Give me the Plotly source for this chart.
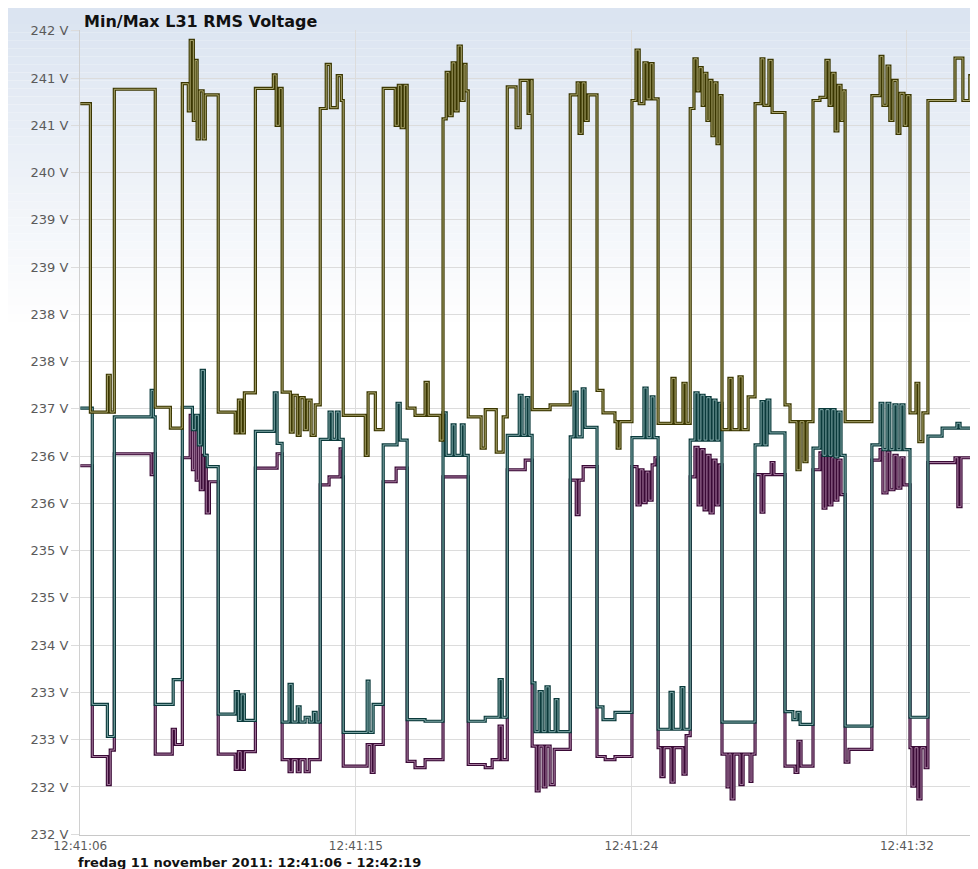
import plotly.graph_objects as go
import pandas as pd

# ---------------- data (seconds after 12:41:06.5, volts) ----------------
start = pd.Timestamp("2011-11-11 12:41:06.5")

olive_t = [0.00, 0.32, 0.86, 0.95, 1.08, 2.38, 2.86,
           3.24, 3.43, 3.49, 3.59, 3.65, 3.71, 3.78, 3.90, 3.97,
           4.38, 4.92, 5.02, 5.11, 5.21,
           5.56, 6.13, 6.22, 6.32,
           6.41, 6.67, 6.76, 6.89, 6.98, 7.11, 7.21, 7.33, 7.46,
           7.62, 7.81, 7.94, 8.16, 8.29,
           8.35, 9.05, 9.14, 9.37,
           9.62, 10.00, 10.10, 10.19, 10.29,
           10.38, 10.63, 10.95, 11.05, 11.43,
           11.52, 11.62, 11.71, 11.81, 11.90, 12.00, 12.10, 12.19, 12.25,
           12.32, 12.73, 12.86, 13.21, 13.43,
           13.56, 13.84, 13.97, 14.22, 14.32,
           14.35, 14.92,
           15.56, 15.78, 15.84, 15.94, 16.03, 16.13,
           16.41, 16.60, 16.98, 17.05, 17.14,
           17.52, 17.65, 17.75, 17.90, 18.00, 18.10, 18.19,
           18.35, 18.79, 18.89, 19.14, 19.24,
           19.37, 19.49, 19.59, 19.65, 19.75, 19.81, 19.90, 19.97, 20.06, 20.13, 20.22, 20.29,
           20.38, 20.60, 20.70, 20.92, 21.02, 21.21,
           21.43, 21.62, 21.71, 21.87, 21.97,
           22.38, 22.54, 22.76, 22.86, 22.98, 23.08,
           23.27, 23.49, 23.68, 23.78, 23.87, 23.97, 24.06, 24.16, 24.22,
           24.29,
           25.14, 25.40, 25.49, 25.62, 25.71, 25.81, 25.94, 26.03, 26.16, 26.25,
           26.35, 26.54, 26.63, 26.76,
           26.92, 27.78, 28.03, 28.25,
           28.35, 28.51]
olive_v = [240.82, 236.97, 237.43, 236.97, 241.00, 237.03, 236.77,
           241.07, 240.73, 241.61, 240.61, 241.36, 240.38, 240.98, 240.38, 240.93,
           236.97, 236.71, 237.12, 236.71, 237.21,
           241.01, 241.18, 240.55, 241.01,
           237.22, 236.72, 237.18, 236.68, 237.15, 236.75, 237.12, 236.68, 237.06,
           240.76, 241.31, 240.77, 241.17, 240.86,
           236.93, 236.43, 237.21, 236.75,
           241.01, 240.55, 241.05, 240.52, 241.05,
           237.02, 236.93, 237.34, 236.93, 236.62,
           240.63, 241.21, 240.67, 241.33, 240.73, 241.54, 240.86, 241.31, 240.98,
           236.91, 236.52, 237.00, 236.47, 236.91,
           241.03, 240.52, 241.11, 240.70, 241.11,
           237.00, 237.06,
           240.93, 241.08, 240.45, 241.08, 240.61, 240.93,
           237.24, 236.96, 236.85, 236.52, 236.85,
           240.86, 241.49, 240.82, 241.33, 240.88, 241.32, 240.88,
           236.83, 237.39, 236.83, 237.33, 236.83,
           240.76, 241.38, 240.98, 241.27, 240.80, 241.20, 240.61, 241.11, 240.42, 241.08, 240.32, 240.92,
           236.75, 237.39, 236.75, 237.41, 236.75, 237.16,
           240.82, 241.38, 240.80, 241.36, 240.71,
           237.06, 236.85, 236.25, 236.85, 236.35, 236.85,
           240.86, 240.90, 241.36, 240.80, 241.20, 240.48, 241.05, 240.61, 240.98,
           236.85,
           240.92, 241.41, 240.80, 241.29, 240.61, 241.11, 240.45, 240.95, 240.55, 240.92,
           236.96, 237.33, 236.60, 236.96,
           240.86, 241.39, 240.86, 241.17,
           237.08, 237.08]

teal_t = [0.00, 0.38, 0.86,
          1.08, 2.25, 2.32, 2.38, 2.95,
          3.24, 3.56, 3.65, 3.75, 3.84, 3.94, 4.03,
          4.38, 4.92, 5.02, 5.11, 5.21,
          5.56, 6.16, 6.25,
          6.41, 6.63, 6.73, 6.89, 6.98, 7.14, 7.27, 7.40, 7.49,
          7.62, 7.90, 8.00, 8.13, 8.22,
          8.35, 9.11, 9.17, 9.30,
          9.62, 10.06, 10.16,
          10.38, 10.95,
          11.52, 11.62, 11.81, 11.90, 12.10, 12.19,
          12.32, 12.86, 13.30, 13.40,
          13.56, 13.94, 14.03, 14.16, 14.25,
          14.35, 14.44, 14.57, 14.67, 14.79, 14.89, 15.08, 15.17,
          15.56, 15.68, 15.78, 15.94, 16.03,
          16.41, 16.60, 16.98,
          17.52, 17.90, 18.00, 18.13, 18.22,
          18.35, 18.73, 18.83, 19.08, 19.17,
          19.37, 19.52, 19.62, 19.71, 19.81, 19.90, 20.00, 20.10, 20.19, 20.29,
          20.38,
          21.43, 21.62, 21.71, 21.81, 21.90,
          22.38, 22.63, 22.76, 22.86,
          23.27, 23.49, 23.59, 23.68, 23.78, 23.87, 23.97, 24.06, 24.16,
          24.29,
          25.14, 25.40, 25.49, 25.62, 25.71, 25.84, 25.94, 26.06, 26.16,
          26.35,
          26.92, 27.37, 27.84, 27.94,
          28.35, 28.51]
teal_v = [237.02, 233.32, 232.92,
          236.91, 237.24, 236.91, 233.32, 233.63,
          237.03, 236.75, 236.93, 236.56, 237.49, 236.43, 236.29,
          233.20, 233.48, 233.12, 233.44, 233.12,
          236.73, 237.21, 236.58,
          233.10, 233.57, 233.10, 233.29, 233.10, 233.16, 233.10, 233.22, 233.10,
          236.63, 236.97, 236.63, 236.97, 236.63,
          232.97, 233.61, 232.97, 233.32,
          236.56, 237.08, 236.62,
          233.13, 233.11,
          236.96, 236.43, 236.81, 236.43, 236.81, 236.43,
          233.11, 233.16, 233.63, 233.16,
          236.68, 237.18, 236.68, 237.15, 236.68,
          233.59, 232.98, 233.48, 232.98, 233.54, 232.98, 233.38, 232.98,
          236.66, 237.22, 236.66, 237.26, 236.78,
          233.29, 233.13, 233.22,
          236.65, 237.27, 236.65, 237.16, 236.65,
          233.01, 233.47, 233.01, 233.53, 233.01,
          236.62, 237.21, 236.62, 237.18, 236.62, 237.15, 236.62, 237.12, 236.62, 237.08,
          233.10,
          236.56, 237.10, 236.56, 237.12, 236.71,
          233.23, 233.13, 233.22, 233.07,
          236.52, 237.00, 236.43, 237.00, 236.43, 237.00, 236.41, 236.97, 236.43,
          233.05,
          236.56, 237.08, 236.50, 237.08, 236.50, 237.06, 236.50, 237.06, 236.50,
          233.16,
          236.67, 236.77, 236.83, 236.77,
          233.20, 233.20]

purple_t = [0.00, 0.38, 0.86, 0.95,
            1.08, 2.25, 2.32, 2.38, 2.92, 3.02,
            3.24, 3.49, 3.56, 3.62, 3.68, 3.75, 3.81, 3.90, 4.00, 4.10,
            4.38, 4.92, 5.02, 5.11, 5.21,
            5.56, 6.25,
            6.41, 6.63, 6.73, 6.89, 6.98, 7.14, 7.27,
            7.62, 7.90, 8.25, 8.32,
            8.35, 9.11, 9.24, 9.33,
            9.62, 10.03,
            10.38, 10.63, 10.95,
            11.52,
            12.32, 12.86, 13.08, 13.30, 13.40,
            13.56, 14.13,
            14.35, 14.48, 14.57, 14.70, 14.79, 14.92, 15.05,
            15.56, 15.75, 15.84, 15.97,
            16.41, 16.67, 16.98,
            17.52, 17.68, 17.78, 17.87, 17.97, 18.06, 18.16, 18.25,
            18.35, 18.44, 18.54, 18.76, 18.86, 19.14, 19.24,
            19.37, 19.52, 19.62, 19.71, 19.81, 19.90, 20.00, 20.10, 20.19, 20.29,
            20.38, 20.54, 20.60, 20.67, 20.76, 20.95, 21.05, 21.27, 21.33,
            21.43, 21.62, 21.71, 21.94, 22.03,
            22.38, 22.70, 22.79, 22.89,
            23.27, 23.49, 23.59, 23.68, 23.78, 23.87, 23.97, 24.06, 24.16,
            24.29, 24.41,
            25.14, 25.40, 25.49, 25.62, 25.71, 25.84, 25.94, 26.06, 26.16,
            26.35, 26.41, 26.51, 26.60, 26.70, 26.83,
            26.92, 27.78, 27.87, 27.97,
            28.35, 28.51]
purple_v = [236.30, 232.67, 232.32, 232.75,
            236.45, 236.19, 236.45, 232.70, 233.01, 232.82,
            236.40, 236.93, 236.25, 236.81, 236.12, 236.62, 236.00, 236.43, 235.71, 236.10,
            232.70, 232.51, 232.73, 232.51, 232.73,
            236.27, 236.45,
            232.63, 232.48, 232.63, 232.48, 232.63, 232.48, 232.63,
            236.06, 236.16, 236.51, 236.16,
            232.55, 232.82, 232.47, 232.82,
            236.10, 236.27,
            232.61, 232.53, 232.63,
            236.16,
            232.57, 232.53, 232.63, 233.05, 232.63,
            236.25, 236.37,
            232.80, 232.24, 232.80, 232.29, 232.80, 232.32, 232.76,
            236.12, 235.69, 236.12, 236.29,
            232.67, 232.63, 232.67,
            236.29, 235.81, 236.25, 235.84, 236.22, 235.87, 236.31, 236.40,
            232.78, 232.42, 232.78, 232.35, 232.78, 232.45, 232.93,
            236.16, 236.53, 235.81, 236.50, 235.75, 236.43, 235.71, 236.37, 235.81, 236.31,
            232.70, 232.29, 232.70, 232.14, 232.70, 232.32, 232.70, 232.36, 232.70,
            236.19, 235.72, 236.19, 236.34, 236.19,
            232.55, 232.47, 232.86, 232.55,
            236.25, 236.46, 235.77, 236.43, 235.81, 236.40, 235.87, 236.37, 235.94,
            232.60, 232.76,
            236.37, 236.50, 235.96, 236.47, 236.00, 236.43, 236.02, 236.40, 236.06,
            232.78, 232.30, 232.78, 232.14, 232.78, 232.53,
            236.34, 236.40, 235.79, 236.40,
            232.55, 232.55]

y_ticks = [231.70, 232.29, 232.88, 233.47, 234.06, 234.65, 235.24, 235.83, 236.42,
           237.01, 237.60, 238.19, 238.78, 239.37, 239.96, 240.55, 241.14, 241.73]
y_tick_labels = ["232 V", "232 V", "233 V", "233 V", "234 V", "235 V", "235 V", "236 V", "236 V",
                 "237 V", "238 V", "238 V", "239 V", "239 V", "240 V", "241 V", "241 V", "242 V"]
x_tick_seconds = [0.0, 8.75, 17.5, 26.25]
x_end_seconds = 28.51

title_text = "Min/Max L31 RMS Voltage"
caption_text = "fredag 11 november 2011: 12:41:06 - 12:42:19"

# ---------------- figure ----------------
def to_time(secs):
    return start + pd.to_timedelta(secs, unit="s")

fig = go.Figure()

series = [
    (purple_t, purple_v, "#3a0a36", "#b48aae"),
    (teal_t, teal_v, "#0b3a3b", "#8fb5b5"),
    (olive_t, olive_v, "#3a3600", "#b7b27a"),
]
for t, v, dark, light in series:
    x = to_time(t)
    fig.add_trace(go.Scatter(x=x, y=v, mode="lines", line=dict(color=dark, width=3.2, shape="hv"),
                             hoverinfo="skip", showlegend=False))
    fig.add_trace(go.Scatter(x=x, y=v, mode="lines", line=dict(color=light, width=0.9, shape="hv"),
                             hoverinfo="skip", showlegend=False))

# soft blue gradient at the top of the page
PLOT_H = 805
shapes = []
n_bands = 40
top_paper = 1 + 22 / PLOT_H
bottom_paper = 1 - 300 / PLOT_H
for i in range(n_bands):
    f = i / (n_bands - 1)
    r = int(219 + (255 - 219) * f)
    g = int(228 + (255 - 228) * f)
    b = int(241 + (255 - 241) * f)
    y1 = top_paper - (top_paper - bottom_paper) * i / n_bands
    y0 = top_paper - (top_paper - bottom_paper) * (i + 1) / n_bands
    shapes.append(dict(type="rect", xref="paper", yref="paper", x0=-0.1, x1=1.02, y0=y0, y1=y1,
                       fillcolor=f"rgb({r},{g},{b})", line=dict(width=0), layer="below"))

fig.update_layout(
    width=978, height=869,
    margin=dict(l=72, r=8, t=22, b=42),
    paper_bgcolor="white", plot_bgcolor="rgba(0,0,0,0)",
    shapes=shapes,
    font=dict(family="DejaVu Sans", size=13, color="#5a5a5a"),
    xaxis=dict(
        type="date",
        range=[to_time(-0.01), to_time(x_end_seconds)],
        tickvals=list(to_time(x_tick_seconds)),
        tickformat="%H:%M:%S",
        showgrid=True, gridcolor="#dcdcdc", gridwidth=1,
        showline=True, linecolor="#c8c8c8", linewidth=1,
        ticks="", zeroline=False,
        tickfont=dict(size=12, color="#5a5a5a"),
    ),
    yaxis=dict(
        range=[231.69, 241.74],
        tickvals=y_ticks,
        ticktext=y_tick_labels,
        showgrid=True, gridcolor="#dcdcdc", gridwidth=1,
        showline=True, linecolor="#d0d0d0", linewidth=1,
        ticks="outside", ticklen=8, tickcolor="#dcdcdc",
        zeroline=False,
        tickfont=dict(size=13, color="#5a5a5a"),
    ),
    annotations=[
        dict(text=title_text, xref="paper", yref="paper", x=0, y=1, xanchor="left", yanchor="bottom",
             xshift=2, yshift=-3, showarrow=False,
             font=dict(family="DejaVu Sans", size=16, color="#111111", weight="bold")),
        dict(text=caption_text, xref="paper", yref="paper", x=0, y=0, xanchor="left", yanchor="middle",
             xshift=-4, yshift=-27, showarrow=False,
             font=dict(family="DejaVu Sans", size=13, color="#111111", weight="bold")),
    ],
)

fig.write_html("out.html")
